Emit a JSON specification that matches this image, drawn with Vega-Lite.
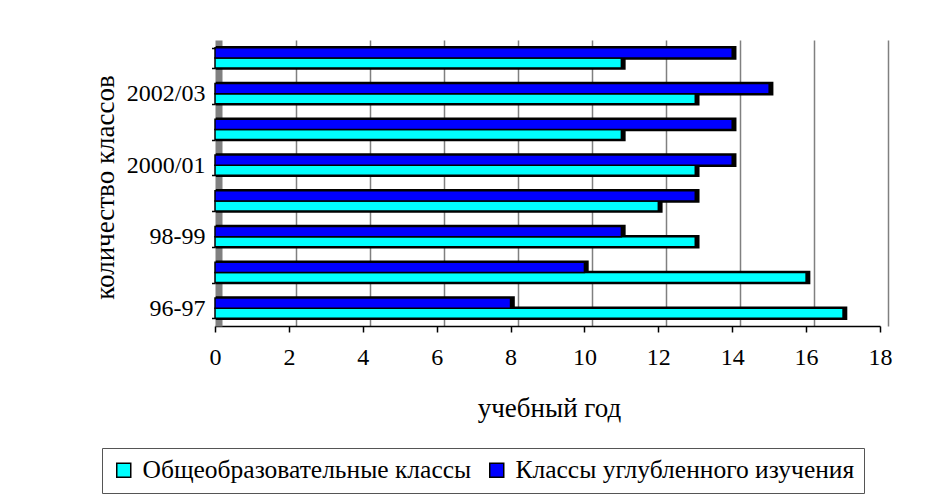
{
  "$schema": "https://vega.github.io/schema/vega-lite/v6.json",
  "width": 665,
  "height": 286,
  "autosize": {"type": "none"},
  "padding": {"left": 215, "top": 40, "right": 71, "bottom": 169},
  "background": "white",
  "config": {"view": {"stroke": null}, "font": "Liberation Serif"},
  "data": {
    "values": [
      {"year": "2003/04", "series": "Общеобразовательные классы", "value": 11},
      {"year": "2003/04", "series": "Классы углубленного изучения", "value": 14},
      {"year": "2002/03", "series": "Общеобразовательные классы", "value": 13},
      {"year": "2002/03", "series": "Классы углубленного изучения", "value": 15},
      {"year": "2001/02", "series": "Общеобразовательные классы", "value": 11},
      {"year": "2001/02", "series": "Классы углубленного изучения", "value": 14},
      {"year": "2000/01", "series": "Общеобразовательные классы", "value": 13},
      {"year": "2000/01", "series": "Классы углубленного изучения", "value": 14},
      {"year": "99-2000", "series": "Общеобразовательные классы", "value": 12},
      {"year": "99-2000", "series": "Классы углубленного изучения", "value": 13},
      {"year": "98-99", "series": "Общеобразовательные классы", "value": 13},
      {"year": "98-99", "series": "Классы углубленного изучения", "value": 11},
      {"year": "97-98", "series": "Общеобразовательные классы", "value": 16},
      {"year": "97-98", "series": "Классы углубленного изучения", "value": 10},
      {"year": "96-97", "series": "Общеобразовательные классы", "value": 17},
      {"year": "96-97", "series": "Классы углубленного изучения", "value": 8}
    ]
  },
  "encoding": {
    "y": {
      "field": "year",
      "type": "nominal",
      "sort": ["2003/04", "2002/03", "2001/02", "2000/01", "99-2000", "98-99", "97-98", "96-97"],
      "scale": {"paddingInner": 0.43, "paddingOuter": 0.215},
      "axis": {
        "title": "количество классов",
        "tickBand": "extent",
        "offset": -3.5,
        "domainColor": "#808080",
        "domainWidth": 7,
        "tickColor": "black",
        "tickSize": 7,
        "tickWidth": 1.5,
        "labelPadding": 6.5,
        "labelFont": "Liberation Serif",
        "labelFontSize": 24,
        "labelColor": "black",
        "labelLimit": 0,
        "labelExpr": "indexof(['2002/03','2000/01','98-99','96-97'], datum.value) >= 0 ? datum.value : ''",
        "titleFont": "Liberation Serif",
        "titleFontSize": 27,
        "titleFontWeight": "normal",
        "titleColor": "black",
        "titleX": -105,
        "titleY": 147,
        "titleBaseline": "alphabetic",
        "titleAlign": "center"
      }
    },
    "yOffset": {
      "field": "series",
      "type": "nominal",
      "sort": ["Классы углубленного изучения", "Общеобразовательные классы"],
      "scale": {"paddingInner": 0, "paddingOuter": 0}
    }
  },
  "layer": [
    {
      "mark": {"type": "bar", "color": "black", "stroke": "black", "strokeWidth": 3.5, "xOffset": 2.5},
      "encoding": {
        "x": {
          "field": "value",
          "type": "quantitative",
          "scale": {"domain": [0, 18], "nice": false},
          "axis": {
            "orient": "top",
            "values": [2, 4, 6, 8, 10, 12, 14, 16, 18],
            "grid": true,
            "gridColor": "#808080",
            "gridWidth": 1.5,
            "tickOffset": 7.5,
            "labels": false,
            "ticks": false,
            "domain": false,
            "title": null
          }
        }
      }
    },
    {
      "mark": {"type": "bar", "stroke": "black", "strokeWidth": 1.5},
      "encoding": {
        "x": {
          "field": "value",
          "type": "quantitative",
          "scale": {"domain": [0, 18], "nice": false},
          "axis": {
            "orient": "bottom",
            "title": "учебный год",
            "values": [0, 2, 4, 6, 8, 10, 12, 14, 16, 18],
            "grid": false,
            "domainColor": "black",
            "domainWidth": 1.5,
            "tickColor": "black",
            "tickWidth": 1.5,
            "tickSize": 6,
            "labelPadding": 13,
            "labelFont": "Liberation Serif",
            "labelFontSize": 24,
            "labelColor": "black",
            "labelFlush": false,
            "titleFont": "Liberation Serif",
            "titleFontSize": 27,
            "titleFontWeight": "normal",
            "titleColor": "black",
            "titleX": 334,
            "titleY": 90,
            "titleBaseline": "alphabetic"
          }
        },
        "color": {
          "field": "series",
          "type": "nominal",
          "sort": ["Общеобразовательные классы", "Классы углубленного изучения"],
          "scale": {
            "domain": ["Общеобразовательные классы", "Классы углубленного изучения"],
            "range": ["#00FFFF", "#0000FF"]
          },
          "legend": {
            "orient": "none",
            "legendX": -113,
            "legendY": 408,
            "direction": "horizontal",
            "title": null,
            "strokeColor": "#555555",
            "fillColor": "white",
            "padding": 9,
            "symbolType": "square",
            "symbolSize": 196,
            "symbolStrokeColor": "black",
            "symbolStrokeWidth": 1.5,
            "labelFont": "Liberation Serif",
            "labelFontSize": 25.5,
            "labelColor": "black",
            "labelOffset": 6,
            "labelLimit": 0,
            "columnPadding": 12
          }
        }
      }
    }
  ],
  "resolve": {"axis": {"x": "independent"}}
}
